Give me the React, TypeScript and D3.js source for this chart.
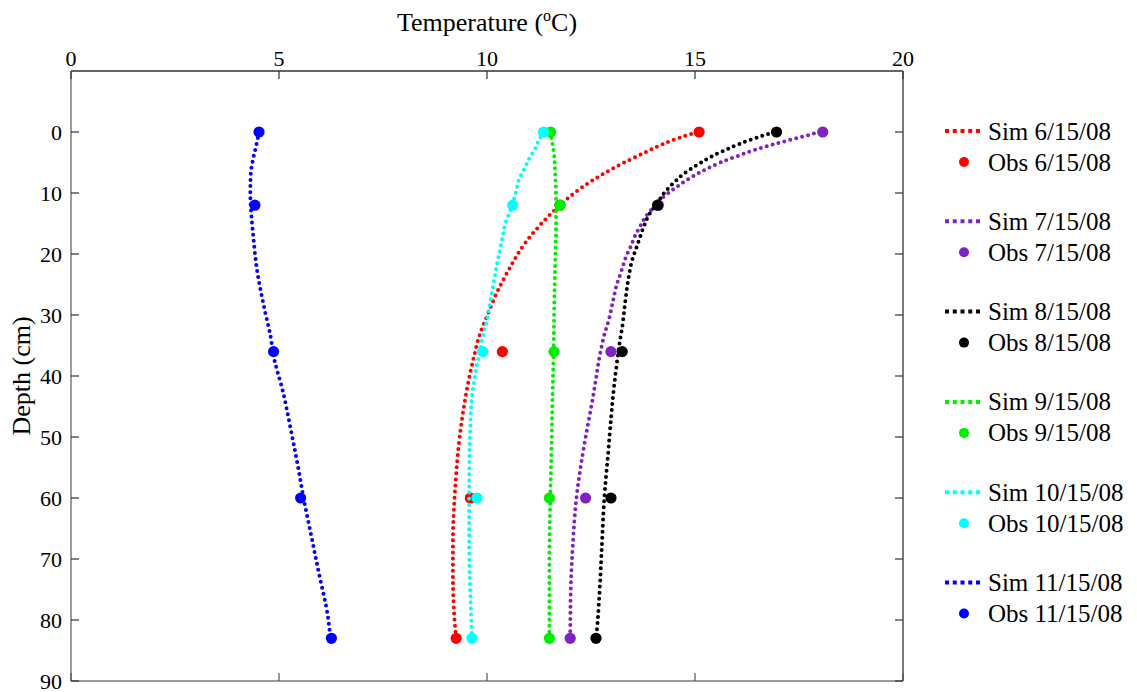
import React from "react";
import * as d3 from "d3";

// ---------- data ----------
const tempTicks = [0, 5, 10, 15, 20];
const depthTicks = [0, 10, 20, 30, 40, 50, 60, 70, 80, 90];

const obsDepths = [0, 12, 36, 60, 83];

const simDepth6 = [0, 1, 2, 3, 4, 5, 6, 7, 8, 9, 10, 11, 12, 13, 14, 15, 16, 18, 20, 22, 24, 26, 28, 30, 32, 34, 37, 40, 44, 48, 52, 56, 60, 64, 68, 72, 76, 80, 83];
const simTemp6 = [15.05, 14.6, 14.22, 13.9, 13.6, 13.3, 13.02, 12.76, 12.52, 12.3, 12.1, 11.92, 11.75, 11.6, 11.45, 11.31, 11.18, 10.94, 10.74, 10.57, 10.41, 10.26, 10.13, 10.01, 9.89, 9.79, 9.68, 9.58, 9.47, 9.38, 9.31, 9.26, 9.22, 9.19, 9.18, 9.18, 9.19, 9.22, 9.26];
const obsTemp6 = [15.1, 11.75, 10.37, 9.6, 9.26];

const simDepth7 = [0, 1, 2, 3, 4, 5, 6, 7, 8, 9, 10, 11, 12, 13, 14, 15, 17, 19, 20, 23, 25, 28, 31, 33, 35, 37, 40, 43, 46, 52, 60, 68, 76, 83];
const simTemp7 = [18.0, 17.45, 16.9, 16.41, 16.0, 15.61, 15.29, 15.02, 14.77, 14.56, 14.36, 14.18, 14.05, 13.92, 13.8, 13.72, 13.56, 13.44, 13.37, 13.22, 13.12, 13.02, 12.92, 12.83, 12.76, 12.7, 12.63, 12.56, 12.48, 12.32, 12.15, 12.06, 12.01, 12.0];
const obsTemp7 = [18.07, 14.12, 12.98, 12.37, 12.0];

const simDepth8 = [0, 1, 2, 3, 4, 5, 6, 7, 8, 9, 10, 12, 13, 14, 15, 16, 17, 19, 21, 24, 28, 32, 34, 38, 42, 47, 52, 60, 68, 76, 81, 83];
const simTemp8 = [16.9, 16.45, 16.05, 15.72, 15.4, 15.15, 14.91, 14.7, 14.54, 14.39, 14.26, 14.06, 13.95, 13.86, 13.8, 13.74, 13.69, 13.59, 13.49, 13.4, 13.32, 13.25, 13.2, 13.12, 13.05, 12.98, 12.92, 12.82, 12.76, 12.7, 12.65, 12.62];
const obsTemp8 = [16.96, 14.1, 13.25, 12.98, 12.62];

const simDepth9 = [0, 1, 3, 7, 11, 15, 21, 27, 36, 45, 52, 60, 70, 83];
const simTemp9 = [11.53, 11.55, 11.6, 11.64, 11.66, 11.66, 11.64, 11.62, 11.6, 11.57, 11.55, 11.52, 11.5, 11.5];
const obsTemp9 = [11.53, 11.76, 11.61, 11.5, 11.5];

const simDepth10 = [0, 2, 3, 4, 5, 6, 7, 8, 10, 12, 14, 15, 17, 19, 21, 24, 27, 30, 33, 36, 40, 44, 48, 52, 60, 68, 76, 83];
const simTemp10 = [11.36, 11.2, 11.14, 11.04, 10.97, 10.9, 10.82, 10.76, 10.69, 10.6, 10.5, 10.44, 10.38, 10.32, 10.26, 10.18, 10.1, 10.02, 9.92, 9.82, 9.71, 9.63, 9.6, 9.58, 9.57, 9.57, 9.6, 9.64];
const obsTemp10 = [11.36, 10.62, 9.9, 9.76, 9.64];

const simDepth11 = [0, 2, 4, 7, 10, 12, 17, 23, 29, 34, 36, 43, 49, 55, 60, 67, 73, 78, 83];
const simTemp11 = [4.52, 4.46, 4.39, 4.32, 4.31, 4.32, 4.38, 4.48, 4.65, 4.81, 4.85, 5.11, 5.29, 5.46, 5.59, 5.8, 5.98, 6.14, 6.24];
const obsTemp11 = [4.52, 4.42, 4.87, 5.52, 6.26];

const seriesNames = ["6/15/08", "7/15/08", "8/15/08", "9/15/08", "10/15/08", "11/15/08"];
const seriesColors = ["#ff0000", "#7d23c4", "#000000", "#00ee00", "#00ffff", "#0000ff"];

const simDepths = [simDepth6, simDepth7, simDepth8, simDepth9, simDepth10, simDepth11];
const simTemps = [simTemp6, simTemp7, simTemp8, simTemp9, simTemp10, simTemp11];
const obsTemps = [obsTemp6, obsTemp7, obsTemp8, obsTemp9, obsTemp10, obsTemp11];

// ---------- layout ----------
const W = 1137;
const H = 692;
const L = 71;
const R = 903;
const T = 71;
const B = 681;

export default function App() {
  const x = d3.scaleLinear().domain([0, 20]).range([L, R]);
  const y = d3.scaleLinear().domain([-10, 90]).range([T, B]);

  const line = d3
    .line<[number, number]>()
    .x((d) => x(d[0]))
    .y((d) => y(d[1]))
    .curve(d3.curveMonotoneY);

  const font = "'Liberation Serif', 'Times New Roman', serif";
  const tickLen = 8;
  const axisGrey = "#7a7a7a";

  return (
    <svg
      width={W}
      height={H}
      style={{ position: "absolute", left: 0, top: 0, background: "#fff" }}
      fontFamily={font}
    >
      <rect x={0} y={0} width={W} height={H} fill="#fff" />

      {/* data */}
      {seriesNames.map((name, i) => {
        const pts: [number, number][] = simTemps[i].map((t, k) => [t, simDepths[i][k]]);
        return (
          <g key={name}>
            <path
              d={line(pts) || ""}
              fill="none"
              stroke={seriesColors[i]}
              strokeWidth={4}
              strokeLinecap="round"
              strokeDasharray="0 6.1"
            />
            {obsTemps[i].map((t, k) => (
              <circle key={k} cx={x(t)} cy={y(obsDepths[k])} r={5.6} fill={seriesColors[i]} />
            ))}
          </g>
        );
      })}

      {/* frame */}
      <line x1={L} x2={R} y1={T} y2={T} stroke="#333" strokeWidth={1.5} />
      <line x1={L} x2={R} y1={B} y2={B} stroke={axisGrey} strokeWidth={1.5} />
      <line x1={L} x2={L} y1={T} y2={B} stroke={axisGrey} strokeWidth={1.5} />
      <line x1={R} x2={R} y1={T} y2={B} stroke={axisGrey} strokeWidth={2} />

      {/* x ticks (top labels) */}
      {tempTicks.map((t) => (
        <g key={"xt" + t}>
          <line x1={x(t)} x2={x(t)} y1={T} y2={T + tickLen} stroke="#333" strokeWidth={1.2} />
          <line x1={x(t)} x2={x(t)} y1={B} y2={B - tickLen} stroke="#555" strokeWidth={1.2} />
          <text x={x(t)} y={T - 5} textAnchor="middle" fontSize={22} fill="#000">
            {t}
          </text>
        </g>
      ))}

      {/* y ticks */}
      {depthTicks.map((d) => (
        <g key={"yt" + d}>
          <line x1={L} x2={L + tickLen} y1={y(d)} y2={y(d)} stroke="#333" strokeWidth={1.2} />
          <line x1={R} x2={R - tickLen} y1={y(d)} y2={y(d)} stroke="#333" strokeWidth={1.2} />
          <text x={L - 9} y={y(d)} textAnchor="end" dominantBaseline="central" fontSize={22} fill="#000">
            {d}
          </text>
        </g>
      ))}

      {/* axis titles */}
      <text x={(L + R) / 2} y={31} textAnchor="middle" fontSize={26} fill="#000">
        Temperature (
        <tspan fontSize={16} dy={-10}>
          o
        </tspan>
        <tspan dy={10}>C)</tspan>
      </text>
      <text
        transform={`translate(30, ${(T + B) / 2}) rotate(-90)`}
        textAnchor="middle"
        fontSize={26}
        fill="#000"
      >
        Depth (cm)
      </text>

      {/* legend */}
      {seriesNames.map((name, i) => {
        const ys = 131 + i * 90.3;
        const yo = ys + 31;
        return (
          <g key={"lg" + name}>
            <line
              x1={945}
              x2={980}
              y1={ys}
              y2={ys}
              stroke={seriesColors[i]}
              strokeWidth={4}
              strokeDasharray="4 3.75"
            />
            <text x={988} y={ys} dominantBaseline="central" fontSize={25} fill="#000">
              {"Sim " + name}
            </text>
            <circle cx={964} cy={yo} r={5} fill={seriesColors[i]} />
            <text x={988} y={yo} dominantBaseline="central" fontSize={25} fill="#000">
              {"Obs " + name}
            </text>
          </g>
        );
      })}
    </svg>
  );
}
